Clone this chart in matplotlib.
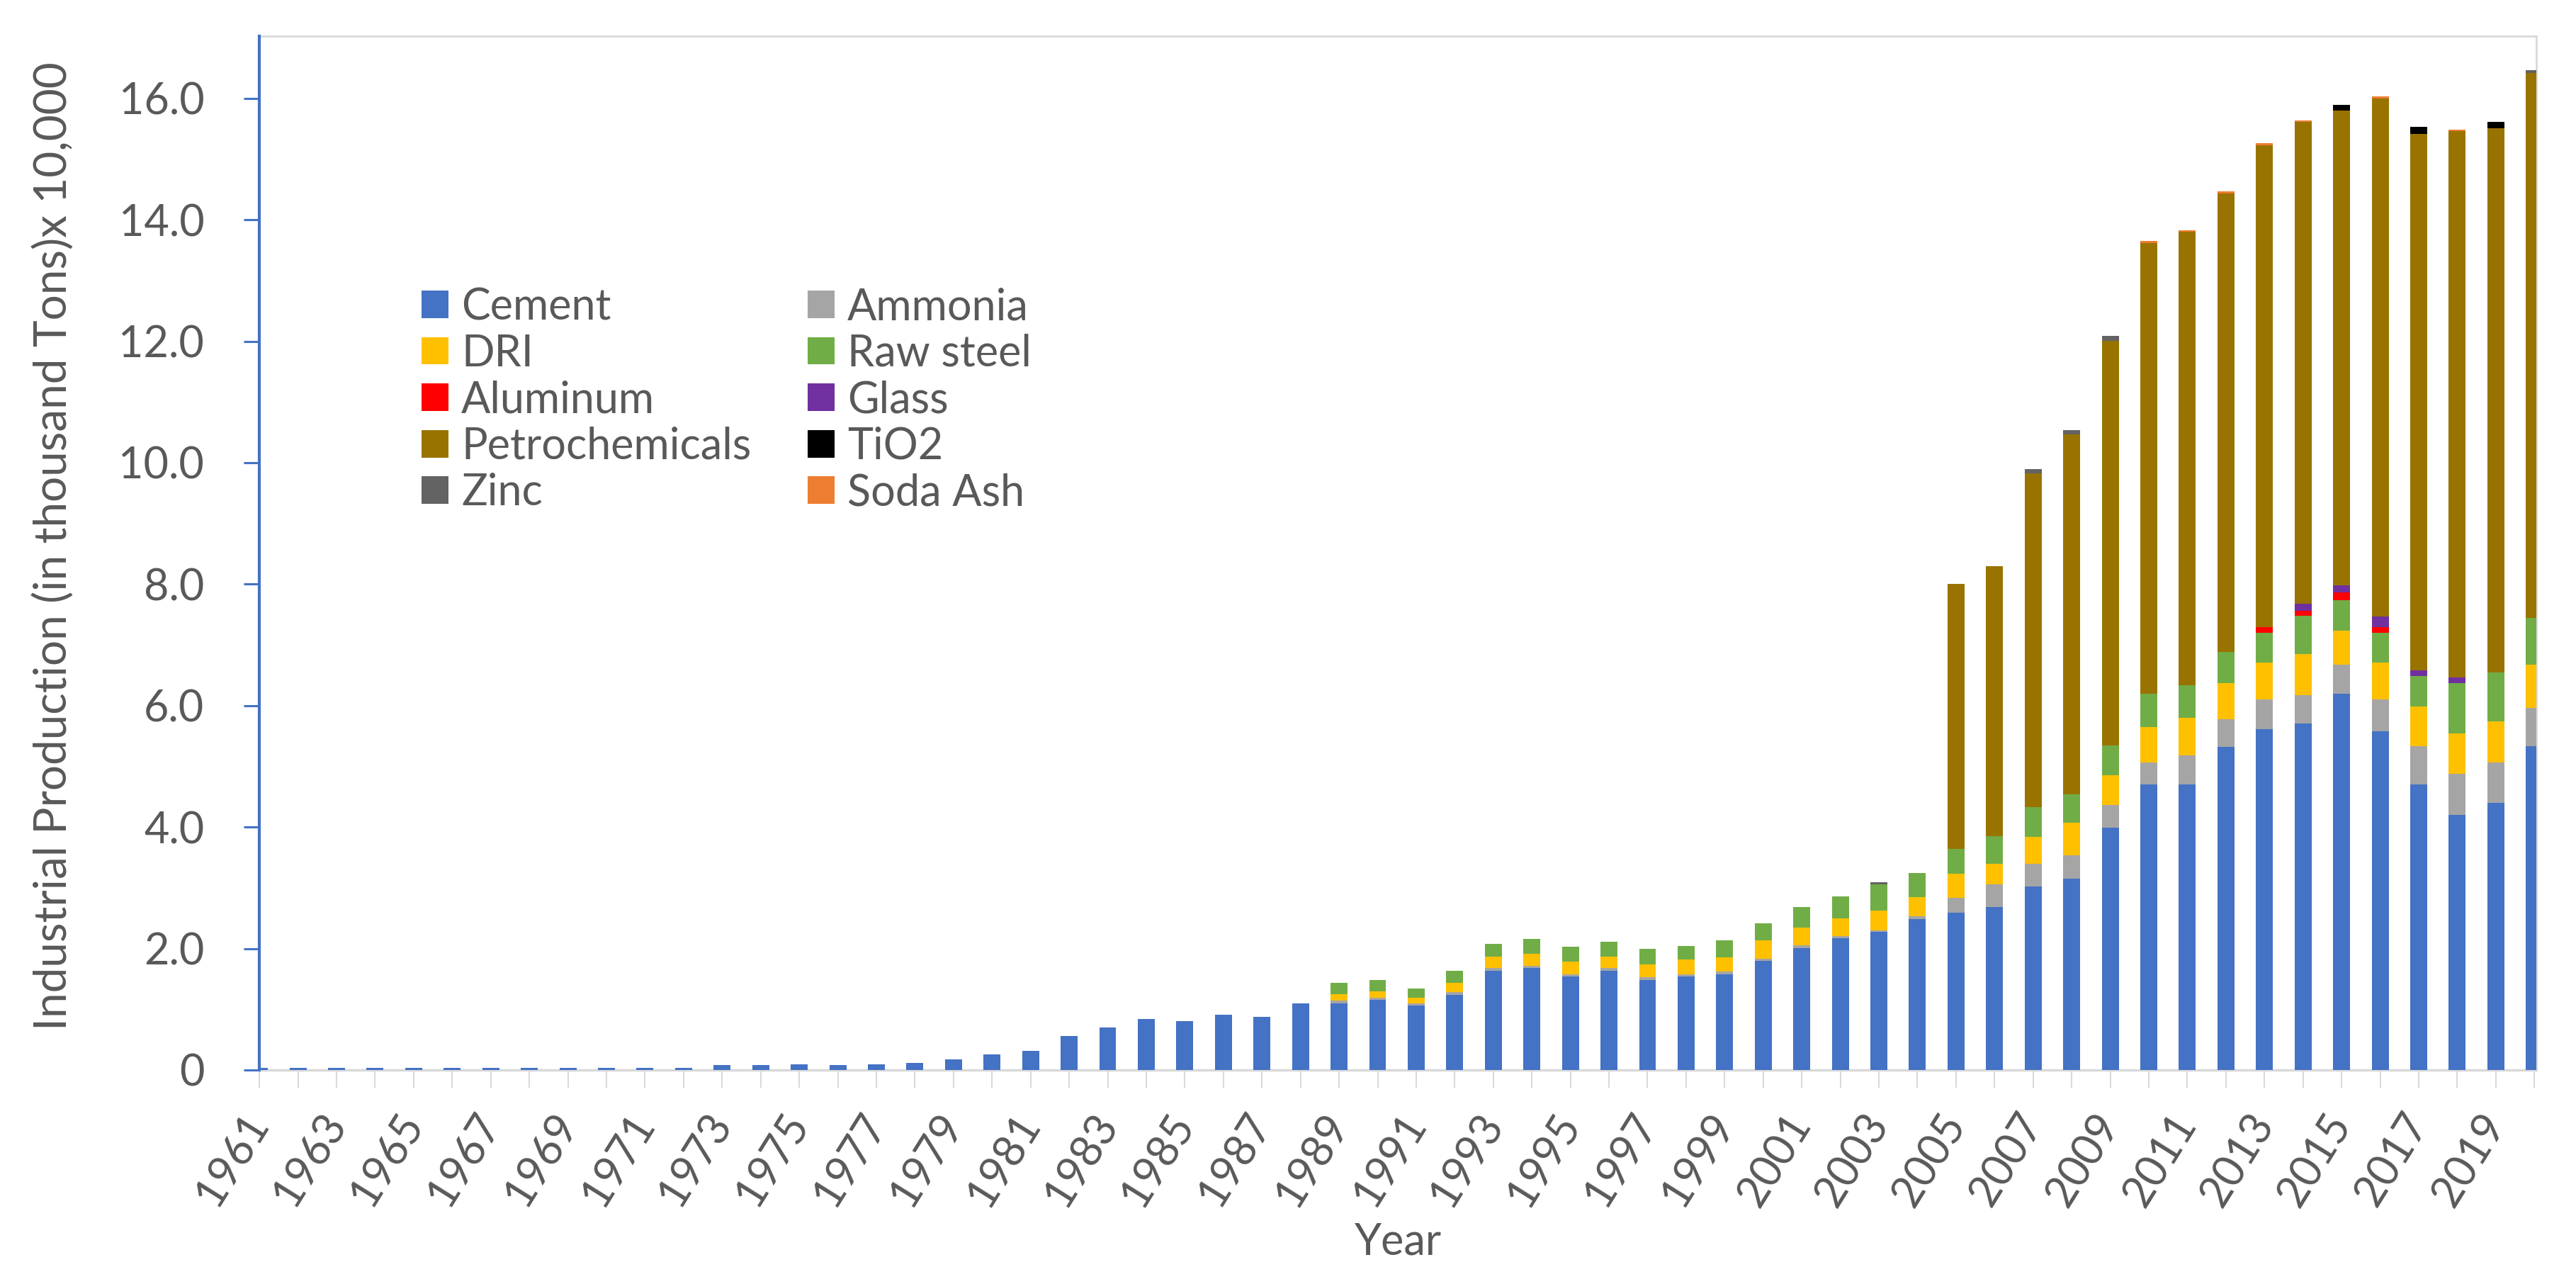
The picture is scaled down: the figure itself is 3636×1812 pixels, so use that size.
import matplotlib.pyplot as plt
import numpy as np

# categories
years = list(range(1961, 2021))

# stacked series values (x 10,000 thousand tons), 1961 -> 2020
cement = [0.04, 0.04, 0.04, 0.04, 0.04, 0.04, 0.04, 0.04, 0.04, 0.04, 0.04, 0.04,
          0.08, 0.08, 0.09, 0.08, 0.09, 0.12, 0.17, 0.26, 0.31, 0.56, 0.70, 0.84,
          0.80, 0.91, 0.87, 1.10, 1.10, 1.15, 1.06, 1.24, 1.63, 1.68, 1.54, 1.63,
          1.48, 1.54, 1.57, 1.80, 2.01, 2.17, 2.27, 2.49, 2.59, 2.68, 3.02, 3.15,
          3.99, 4.70, 4.70, 5.32, 5.61, 5.71, 6.19, 5.58, 4.70, 4.20, 4.40, 5.33]
ammonia = [0] * 28 + [0.04, 0.04, 0.04, 0.04, 0.05, 0.04, 0.04, 0.05, 0.05, 0.04, 0.05,
                      0.03, 0.04, 0.04, 0.03, 0.04, 0.24, 0.38, 0.38, 0.39, 0.37, 0.36,
                      0.48, 0.45, 0.49, 0.46, 0.48, 0.52, 0.63, 0.68, 0.66, 0.63]
dri = [0] * 28 + [0.11, 0.10, 0.09, 0.15, 0.19, 0.19, 0.20, 0.19, 0.21, 0.24, 0.24,
                  0.30, 0.29, 0.29, 0.33, 0.32, 0.40, 0.34, 0.44, 0.53, 0.49, 0.59,
                  0.62, 0.60, 0.61, 0.68, 0.56, 0.61, 0.65, 0.66, 0.68, 0.71]
raw_steel = [0] * 28 + [0.18, 0.19, 0.15, 0.20, 0.21, 0.25, 0.25, 0.24, 0.25, 0.22, 0.27,
                        0.28, 0.34, 0.36, 0.43, 0.39, 0.41, 0.45, 0.49, 0.47, 0.49, 0.54,
                        0.54, 0.52, 0.49, 0.63, 0.51, 0.49, 0.51, 0.83, 0.81, 0.78]
aluminum = [0] * 52 + [0.09, 0.08, 0.12, 0.09, 0, 0, 0, 0]
glass = [0] * 53 + [0.12, 0.12, 0.18, 0.09, 0.09, 0, 0]
petrochemicals = [0] * 44 + [4.36, 4.45, 5.50, 5.93, 6.67, 7.43, 7.46, 7.55,
                             7.94, 7.93, 7.82, 8.53, 8.83, 9.00, 8.96, 8.97]
tio2 = [0] * 54 + [0.09, 0, 0.12, 0, 0.10, 0]
zinc = [0] * 42 + [0.03, 0, 0, 0, 0.07, 0.07, 0.08, 0, 0, 0, 0, 0, 0, 0, 0, 0, 0, 0.05]
soda_ash = [0] * 49 + [0.03, 0.03, 0.03, 0.03, 0.03, 0, 0.03, 0, 0.03, 0, 0]

y_ticks = [0, 2, 4, 6, 8, 10, 12, 14, 16]
y_tick_labels = ['0', '2.0', '4.0', '6.0', '8.0', '10.0', '12.0', '14.0', '16.0']

series = [
    ('Cement', cement, '#4472C4'),
    ('Ammonia', ammonia, '#A5A5A5'),
    ('DRI', dri, '#FFC000'),
    ('Raw steel', raw_steel, '#70AD47'),
    ('Aluminum', aluminum, '#FF0000'),
    ('Glass', glass, '#7030A0'),
    ('Petrochemicals', petrochemicals, '#997300'),
    ('TiO2', tio2, '#000000'),
    ('Zinc', zinc, '#636363'),
    ('Soda Ash', soda_ash, '#ED7D31'),
]

txt = '#595959'
plt.rcParams['font.family'] = ['Lato', 'DejaVu Sans']

fig = plt.figure(figsize=(36.36, 18.12), dpi=100)
ax = fig.add_axes([0.1007, 0.1667, 0.8839, 0.8054])

x = np.arange(len(years))
bottom = np.zeros(len(years))
handles = []
for name, vals, color in series:
    b = ax.bar(x, vals, width=0.44, bottom=bottom, color=color, label=name, zorder=3)
    handles.append(b)
    bottom += np.array(vals)

ax.set_xlim(0, 59.05)
ax.set_ylim(0, 17.03)

ax.set_yticks(y_ticks)
ax.set_yticklabels(y_tick_labels)
ax.set_xticks(x)
ax.set_xticklabels([str(y) if (y - years[0]) % 2 == 0 else '' for y in years],
                   rotation=58, ha='right', va='center', rotation_mode='anchor')

ax.tick_params(axis='y', direction='out', length=16, width=2.2, color='#4472C4',
               labelsize=44, labelcolor=txt, pad=40)
ax.tick_params(axis='x', direction='out', length=18, width=1.5, color='#D9D9D9',
               labelsize=44, labelcolor=txt, pad=30)

ax.spines['left'].set_color('#4472C4')
ax.spines['left'].set_linewidth(3)
ax.spines['left'].set_zorder(4)
ax.spines['bottom'].set_color('#D9D9D9')
ax.spines['bottom'].set_linewidth(2.5)
for s in ['top', 'right']:
    ax.spines[s].set_color('#D9D9D9')
    ax.spines[s].set_linewidth(2)

fig.text(76 / 3636, 0.5745, 'Industrial Production (in thousand Tons)x 10,000',
         rotation=90, ha='center', va='center', fontsize=46, color=txt)
fig.text(1973 / 3636, 0.0326, 'Year', ha='center', va='center', fontsize=44, color=txt)

# excel fills the legend row by row
order = handles[0::2] + handles[1::2]
leg = fig.legend(order, [h.get_label() for h in order], ncol=2, frameon=False,
                 loc='upper left', bbox_to_anchor=(595 / 3636, 1 - 405 / 1812),
                 borderpad=0, borderaxespad=0, fontsize=44, labelcolor=txt,
                 handlelength=0.62, handleheight=0.6, handletextpad=0.3,
                 labelspacing=0.14, columnspacing=1.3)

fig.savefig('out.png', dpi=100)
